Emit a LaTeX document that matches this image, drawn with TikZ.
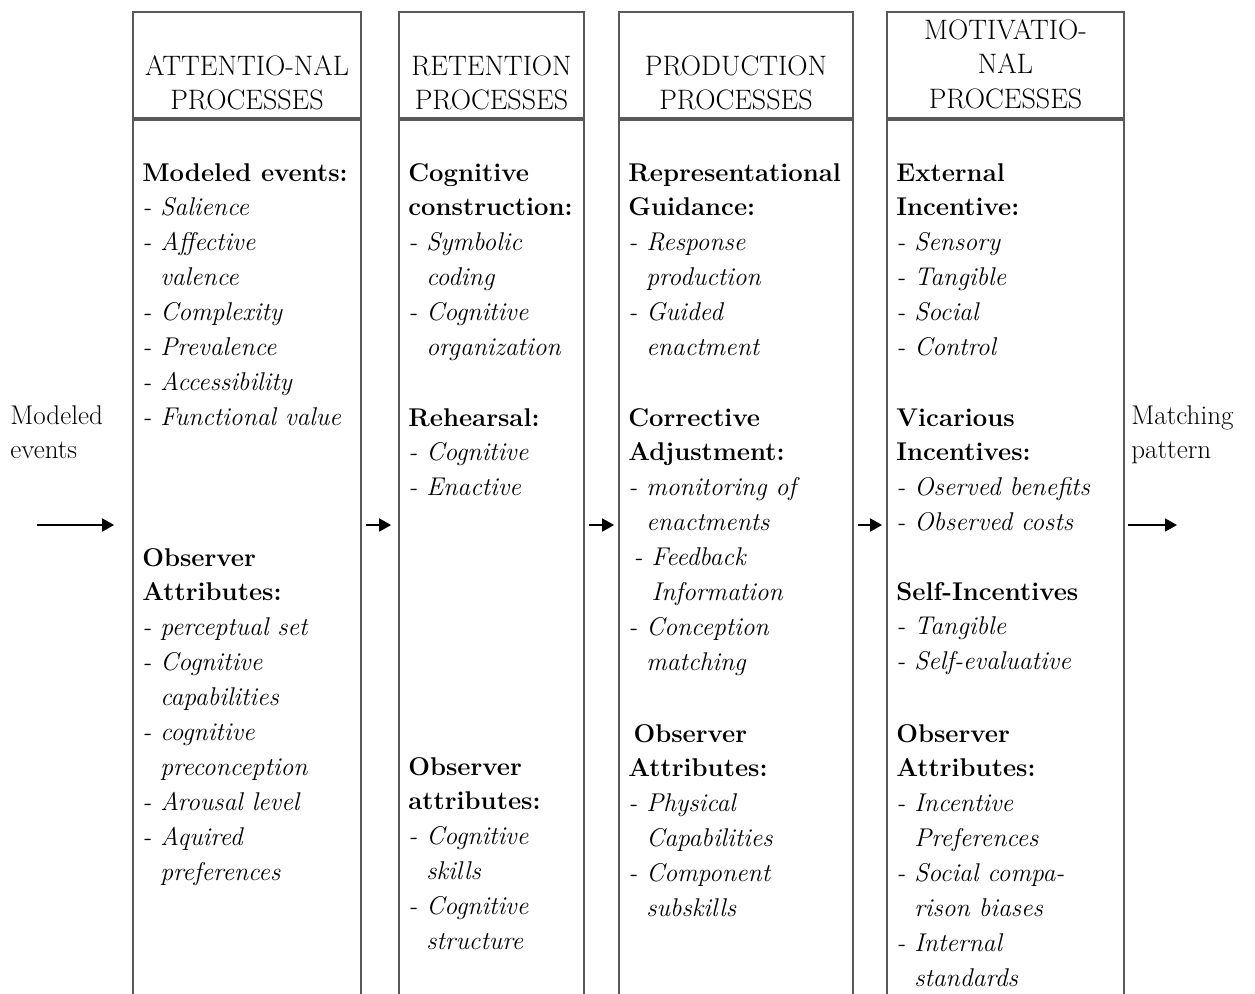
\documentclass[tikz,border=0pt]{standalone}
\usepackage{fontspec}
\usetikzlibrary{arrows.meta}
\newcommand{\lns}[1]{\begin{tabular}[t]{@{}l@{}}#1\end{tabular}}
\newcommand{\hlns}[1]{\begin{tabular}[t]{@{}c@{}}#1\end{tabular}}
\newcommand{\itm}[1]{{\itshape - #1}}
\newcommand{\cnt}[1]{{\itshape\phantom{- }#1}}
\tikzset{
  head/.style={draw=black!65, line width=1pt, minimum height=2.12cm, inner sep=0pt},
  body/.style={draw=black!65, line width=1pt, minimum height=18.4cm, inner sep=0pt, anchor=north},
  txt/.style={anchor=base west, inner sep=0pt, font=\fontsize{14.6}{19.9}\selectfont},
  htxt/.style={anchor=base, inner sep=0pt, font=\fontsize{16}{19.9}\selectfont},
  arr/.style={-{Triangle[length=0.24cm,width=0.26cm]}, line width=1pt}
}
\begin{document}
\begin{tikzpicture}
  \useasboundingbox (0,0) rectangle (25.1,-19.88);
  \clip (0,0) rectangle (25.1,-19.88);
  % columns
  \node[head, minimum width=4.56cm] (h1) at (4.94,-1.30) {};
  \node[head, minimum width=3.70cm] (h2) at (9.83,-1.30) {};
  \node[head, minimum width=4.68cm] (h3) at (14.72,-1.30) {};
  \node[head, minimum width=4.74cm] (h4) at (20.11,-1.30) {};
  \node[body, minimum width=4.56cm] (b1) at (h1.south) {};
  \node[body, minimum width=3.70cm] (b2) at (h2.south) {};
  \node[body, minimum width=4.68cm] (b3) at (h3.south) {};
  \node[body, minimum width=4.74cm] (b4) at (h4.south) {};
  % headings
  \node[htxt] (t1) at (4.94,-1.50) {\hlns{ATTENTIO-NAL\\PROCESSES}};
  \node[htxt] (t2) at (9.83,-1.50) {\hlns{RETENTION\\PROCESSES}};
  \node[htxt] (t3) at (14.72,-1.50) {\hlns{PRODUCTION\\PROCESSES}};
  \node[htxt] (t4) at (20.11,-0.78) {\hlns{MOTIVATIO-\\NAL\\PROCESSES}};
  % attentional
  \node[txt] (a1) at (2.84,-3.62) {\lns{\textbf{Modeled events:}\\ \itm{Salience}\\ \itm{Affective}\\ \cnt{valence}\\
    \itm{Complexity}\\ \itm{Prevalence}\\ \itm{Accessibility}\\ \itm{Functional value}}};
  \node[txt] (a2) at (2.84,-11.32) {\lns{\textbf{Observer}\\ \textbf{Attributes:}\\ \itm{perceptual set}\\ \itm{Cognitive}\\
    \cnt{capabilities}\\ \itm{cognitive}\\ \cnt{preconception}\\ \itm{Arousal level}\\ \itm{Aquired}\\ \cnt{preferences}}};
  % retention
  \node[txt] (r1) at (8.16,-3.62) {\lns{\textbf{Cognitive}\\ \textbf{construction:}\\ \itm{Symbolic}\\ \cnt{coding}\\
    \itm{Cognitive}\\ \cnt{organization}}};
  \node[txt] (r2) at (8.16,-8.52) {\lns{\textbf{Rehearsal:}\\ \itm{Cognitive}\\ \itm{Enactive}}};
  \node[txt] (r3) at (8.16,-15.50) {\lns{\textbf{Observer}\\ \textbf{attributes:}\\ \itm{Cognitive}\\ \cnt{skills}\\
    \itm{Cognitive}\\ \cnt{structure}}};
  % production
  \node[txt] (p1) at (12.56,-3.62) {\lns{\textbf{Representational}\\ \textbf{Guidance:}\\ \itm{Response}\\ \cnt{production}\\
    \itm{Guided}\\ \cnt{enactment}}};
  \node[txt] (p2) at (12.56,-8.52) {\lns{\textbf{Corrective}\\ \textbf{Adjustment:}\\ \itm{monitoring of}\\ \cnt{enactments}\\
    \hspace{3pt}\itm{Feedback}\\ \hspace{3pt}\cnt{Information}\\ \itm{Conception}\\ \cnt{matching}}};
  \node[txt] (p3) at (12.56,-14.84) {\lns{\hspace{3pt}\textbf{Observer}\\ \textbf{Attributes:}\\ \itm{Physical}\\ \cnt{Capabilities}\\
    \itm{Component}\\ \cnt{subskills}}};
  % motivational
  \node[txt] (m1) at (17.92,-3.62) {\lns{\textbf{External}\\ \textbf{Incentive:}\\ \itm{Sensory}\\ \itm{Tangible}\\
    \itm{Social}\\ \itm{Control}}};
  \node[txt] (m2) at (17.92,-8.52) {\lns{\textbf{Vicarious}\\ \textbf{Incentives:}\\ \itm{Oserved benefits}\\ \itm{Observed costs}}};
  \node[txt] (m3) at (17.92,-12.00) {\lns{\textbf{Self-Incentives}\\ \itm{Tangible}\\ \itm{Self-evaluative}}};
  \node[txt] (m4) at (17.92,-14.84) {\lns{\textbf{Observer}\\ \textbf{Attributes:}\\ \itm{Incentive}\\ \cnt{Preferences}\\
    \itm{Social compa-}\\ \cnt{rison biases}\\ \itm{Internal}\\ \cnt{standards}}};
  % input and output
  \node[txt, font=\fontsize{15.4}{19.9}\selectfont] (in) at (0.20,-8.48) {\lns{Modeled\\events}};
  \node[txt, font=\fontsize{15.4}{19.9}\selectfont] (out) at (22.62,-8.48) {\lns{Matching\\pattern}};
  \coordinate (src) at (0.74,-10.5);
  \coordinate (dst) at (23.54,-10.5);
  \draw[arr, shorten >=0.36cm] (src) -- (b1.west |- src);
  \draw[arr, shorten <=0.08cm, shorten >=0.14cm] (b1.east |- src) -- (b2.west |- src);
  \draw[arr, shorten <=0.08cm, shorten >=0.08cm] (b2.east |- src) -- (b3.west |- src);
  \draw[arr, shorten <=0.08cm, shorten >=0.08cm] (b3.east |- src) -- (b4.west |- src);
  \draw[arr, shorten <=0.06cm] (b4.east |- src) -- (dst);
\end{tikzpicture}
\end{document}
